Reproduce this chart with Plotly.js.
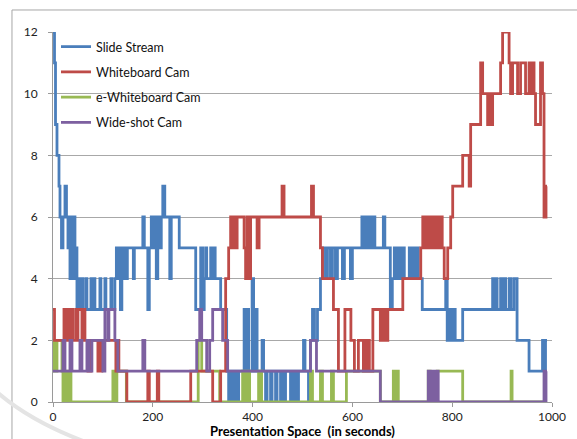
<!DOCTYPE html>
<html><head><meta charset="utf-8">
<script src="https://cdn.plot.ly/plotly-3.0.1.min.js"></script>
<style>html,body{margin:0;padding:0;background:#fff}#chart{width:577px;height:439px}</style>
</head><body><div id="chart"></div>
<script>
// Slide Stream
const slideTime = [
  0,3,5,8,12,14,17,20,24,27,
  30,32,34,36,38,40,42,44,46,48,
  52,54,58,60,66,68,76,78,82,84,
  94,96,104,106,116,118,124,127,130,133,
  135,138,140,142,147,149,161,163,180,183,
  190,193,197,200,203,207,210,214,217,220,
  224,234,237,253,286,296,300,303,306,308,
  316,319,323,325,336,348,352,356,360,364,
  368,372,383,386,389,392,399,402,406,409,
  419,422,426,429,436,439,446,449,456,459,
  463,466,476,479,483,486,489,492,502,505,
  512,516,520,524,530,536,540,546,550,556,
  560,566,570,580,584,596,600,619,622,626,
  629,633,636,640,645,662,665,676,680,684,
  688,692,696,700,704,714,719,722,725,728,
  732,740,787,790,795,798,802,806,821,881,
  885,887,890,897,900,904,907,914,918,924,
  930,954,981,984,987,990];
const slideCount = [
  12,11,9,8,7,6,5,6,7,6,
  5,6,4,6,4,5,6,4,5,3,
  4,3,4,3,4,3,4,3,4,3,
  4,3,4,3,4,3,4,5,4,5,
  3,5,4,5,4,5,4,5,6,5,
  3,5,6,5,6,4,6,5,6,7,
  6,4,6,5,3,5,3,4,5,4,
  5,4,5,4,3,1,0,1,0,1,
  0,1,3,1,3,1,4,1,3,1,
  2,1,0,1,0,1,0,1,0,1,
  0,1,0,1,0,1,0,1,2,1,
  0,2,3,2,3,4,5,4,5,4,
  5,4,5,4,5,4,5,6,5,6,
  5,6,5,6,5,6,5,3,4,5,
  4,5,4,5,4,5,4,5,4,5,
  4,3,4,2,3,2,3,2,3,4,
  3,4,3,4,3,4,3,4,3,4,
  2,1,2,1,2,2];

// Whiteboard Cam
const wbTime = [
  0,3,22,24,26,28,30,32,34,36,
  38,40,46,48,50,56,58,60,64,70,
  76,90,92,96,98,126,128,132,148,190,
  193,209,212,276,320,336,346,352,356,359,
  362,366,369,383,386,389,393,396,409,413,
  459,463,518,522,536,540,562,572,585,597,
  604,612,622,625,628,631,634,641,656,659,
  662,665,668,671,701,737,741,744,747,750,
  753,756,759,762,765,768,771,774,777,780,
  784,791,797,801,821,834,837,857,861,871,
  874,877,881,897,901,914,917,921,931,937,
  947,954,958,961,964,967,977,981,984,988,
  990];
const wbCount = [
  3,2,3,2,3,2,3,2,3,2,
  3,2,3,2,3,3,2,3,2,1,
  2,1,2,1,2,1,2,1,0,1,
  0,1,0,1,0,1,4,5,6,5,
  6,5,6,5,4,6,4,6,5,6,
  7,6,7,6,5,4,3,1,3,2,
  1,2,1,2,1,2,1,3,2,3,
  2,3,2,3,4,5,6,5,6,5,
  6,5,6,5,6,5,6,5,6,5,
  4,5,6,7,8,7,9,11,10,9,
  10,9,10,11,12,11,10,11,10,11,
  10,11,10,11,10,9,11,10,6,7,
  7];

// e-Whiteboard Cam
const ewbTime = [
  0,2,6,8,18,20,22,24,26,28,
  30,32,34,36,120,122,124,126,128,147,
  291,298,334,380,382,384,386,388,390,392,
  394,412,414,416,418,516,520,536,540,558,
  562,588,656,682,684,686,688,690,692,752,
  756,770,821,918,920,990];
const ewbCount = [
  1,2,1,2,1,0,1,0,1,0,
  1,0,1,0,1,0,1,0,1,0,
  2,1,0,1,0,1,0,1,0,1,
  0,1,0,1,0,1,0,1,0,1,
  0,1,0,1,0,1,0,1,0,1,
  0,1,0,1,0,0];

// Wide-shot Cam
const wideTime = [
  0,20,24,34,38,54,58,68,72,78,
  100,104,110,112,124,130,180,184,288,294,
  298,308,314,320,340,350,516,528,656,752,
  754,758,760,764,766,770,772,984,986,988,
  990];
const wideCount = [
  1,2,1,2,1,2,1,2,1,2,
  1,3,2,3,2,1,2,1,2,3,
  2,1,2,3,2,1,2,1,0,1,
  0,1,0,1,0,1,0,1,0,1,
  1];

const seriesNames = ['Slide Stream','Whiteboard Cam','e-Whiteboard Cam','Wide-shot Cam'];
const xTicks = [0,200,400,600,800,1000];
const yTicks = [0,2,4,6,8,10,12];

const colors = {s:'#4a7ebb', w:'#be4b48', e:'#98b954', p:'#7d60a0'};
function tr(x,y,name,color,rank){
  return {x:x,y:y,name:name,type:'scatter',mode:'lines',
    line:{color:color,width:2.8,shape:'hv'},legendrank:rank,legendgroup:name};
}
const data = [
  tr(slideTime,slideCount,seriesNames[0],colors.s,1),
  tr(ewbTime,ewbCount,seriesNames[2],colors.e,3),
  tr(wbTime,wbCount,seriesNames[1],colors.w,2),
  tr(wideTime,wideCount,seriesNames[3],colors.p,4)
];
const F = 'Lato, "Open Sans", sans-serif';
const layout = {
  width:577,height:439,
  margin:{l:53,r:25,t:32,b:37},
  paper_bgcolor:'#fff',plot_bgcolor:'#fff',
  font:{family:F,size:12,color:'#222'},
  showlegend:true,
  legend:{x:0.006,y:1.0,xanchor:'left',yanchor:'top',bgcolor:'rgba(0,0,0,0)',
    font:{family:F,size:12.5,color:'#111'},tracegroupgap:6,itemwidth:30},
  xaxis:{range:[0,1000],tickvals:xTicks,showgrid:false,zeroline:false,
    showline:true,linecolor:'#9a9a9a',linewidth:1,ticks:'outside',ticklen:4,tickcolor:'#9a9a9a',
    ticklabelstandoff:0,tickfont:{family:F,size:12,color:'#222'},automargin:false,
    title:{text:'<b>Presentation Space  (in seconds)</b>',font:{family:F,size:13,color:'#000'},standoff:4}},
  yaxis:{range:[0,12],tickvals:yTicks,showgrid:true,gridcolor:'#a8a8a8',gridwidth:1,zeroline:false,
    showline:true,linecolor:'#9a9a9a',linewidth:1,ticks:'outside',ticklen:4,tickcolor:'#9a9a9a',
    ticklabelstandoff:8,tickfont:{family:F,size:12,color:'#222'},automargin:false},
  shapes:[
    {type:'rect',xref:'paper',yref:'paper',x0:-0.0822,y0:-0.13,x1:1.08,y1:1.0595,
     line:{color:'#a6a6a6',width:1},layer:'below'},
    {type:'path',xref:'paper',yref:'paper',path:'M -0.115 0.03 Q -0.04 -0.06 0.09 -0.12',
     line:{color:'#e4e4e4',width:4},layer:'below'}
  ]
};
Plotly.newPlot('chart',data,layout,{displayModeBar:false,staticPlot:true});
</script></body></html>
